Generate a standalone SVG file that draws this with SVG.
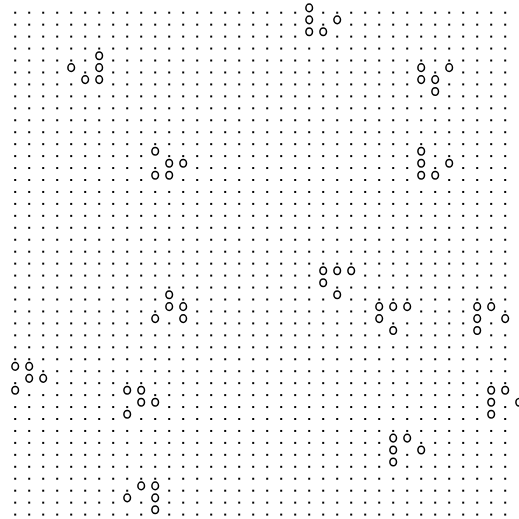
<svg xmlns="http://www.w3.org/2000/svg" xmlns:xlink="http://www.w3.org/1999/xlink" width="519" height="519" viewBox="0 0 519 519">
<style>
.cell-o{fill:none;stroke:#000;stroke-width:1.5}
.blank{fill:#fff}
</style>
<defs>
<pattern id="dots" patternUnits="userSpaceOnUse" x="8.2" y="6.725" width="14" height="11.95">
<rect x="6" y="4.975" width="2" height="2" fill="#000"/>
</pattern>
<g id="o">
<rect class="blank" x="-3" y="-2.2" width="6" height="4.4"/>
<ellipse class="cell-o" cx="0" cy="-4.8" rx="3.3" ry="3.8"/>
</g>
</defs>
<rect width="519" height="519" fill="#fff"/>
<rect id="grid" x="8.2" y="6.725" width="504" height="513.85" fill="url(#dots)"/>
<g id="glider-a">
<use href="#o" x="99.2" y="60.5"/><use href="#o" x="71.2" y="72.45"/><use href="#o" x="99.2" y="72.45"/><use href="#o" x="85.2" y="84.4"/><use href="#o" x="99.2" y="84.4"/>
</g>
<g id="glider-b">
<use href="#o" x="155.2" y="156.1"/><use href="#o" x="169.2" y="168.05"/><use href="#o" x="183.2" y="168.05"/><use href="#o" x="155.2" y="180"/><use href="#o" x="169.2" y="180"/>
</g>
<g id="glider-c">
<use href="#o" x="309.2" y="12.7"/><use href="#o" x="309.2" y="24.65"/><use href="#o" x="337.2" y="24.65"/><use href="#o" x="309.2" y="36.6"/><use href="#o" x="323.2" y="36.6"/>
</g>
<g id="glider-d">
<use href="#o" x="421.2" y="72.45"/><use href="#o" x="449.2" y="72.45"/><use href="#o" x="421.2" y="84.4"/><use href="#o" x="435.2" y="84.4"/><use href="#o" x="435.2" y="96.35"/>
</g>
<g id="glider-e">
<use href="#o" x="421.2" y="156.1"/><use href="#o" x="421.2" y="168.05"/><use href="#o" x="449.2" y="168.05"/><use href="#o" x="421.2" y="180"/><use href="#o" x="435.2" y="180"/>
</g>
<g id="glider-f">
<use href="#o" x="169.2" y="299.5"/><use href="#o" x="169.2" y="311.45"/><use href="#o" x="183.2" y="311.45"/><use href="#o" x="155.2" y="323.4"/><use href="#o" x="183.2" y="323.4"/>
</g>
<g id="glider-g">
<use href="#o" x="323.2" y="275.6"/><use href="#o" x="337.2" y="275.6"/><use href="#o" x="351.2" y="275.6"/><use href="#o" x="323.2" y="287.55"/><use href="#o" x="337.2" y="299.5"/>
</g>
<g id="glider-h">
<use href="#o" x="379.2" y="311.45"/><use href="#o" x="393.2" y="311.45"/><use href="#o" x="407.2" y="311.45"/><use href="#o" x="379.2" y="323.4"/><use href="#o" x="393.2" y="335.35"/>
</g>
<g id="glider-i">
<use href="#o" x="477.2" y="311.45"/><use href="#o" x="491.2" y="311.45"/><use href="#o" x="477.2" y="323.4"/><use href="#o" x="505.2" y="323.4"/><use href="#o" x="477.2" y="335.35"/>
</g>
<g id="glider-j">
<use href="#o" x="15.2" y="371.2"/><use href="#o" x="29.2" y="371.2"/><use href="#o" x="29.2" y="383.15"/><use href="#o" x="43.2" y="383.15"/><use href="#o" x="15.2" y="395.1"/>
</g>
<g id="glider-k">
<use href="#o" x="127.2" y="395.1"/><use href="#o" x="141.2" y="395.1"/><use href="#o" x="141.2" y="407.05"/><use href="#o" x="155.2" y="407.05"/><use href="#o" x="127.2" y="419"/>
</g>
<g id="glider-l">
<use href="#o" x="141.2" y="490.7"/><use href="#o" x="155.2" y="490.7"/><use href="#o" x="127.2" y="502.65"/><use href="#o" x="155.2" y="502.65"/><use href="#o" x="155.2" y="514.6"/>
</g>
<g id="glider-m">
<use href="#o" x="491.2" y="395.1"/><use href="#o" x="505.2" y="395.1"/><use href="#o" x="491.2" y="407.05"/><use href="#o" x="519.2" y="407.05"/><use href="#o" x="491.2" y="419"/>
</g>
<g id="glider-n">
<use href="#o" x="393.2" y="442.9"/><use href="#o" x="407.2" y="442.9"/><use href="#o" x="393.2" y="454.85"/><use href="#o" x="421.2" y="454.85"/><use href="#o" x="393.2" y="466.8"/>
</g>
</svg>
